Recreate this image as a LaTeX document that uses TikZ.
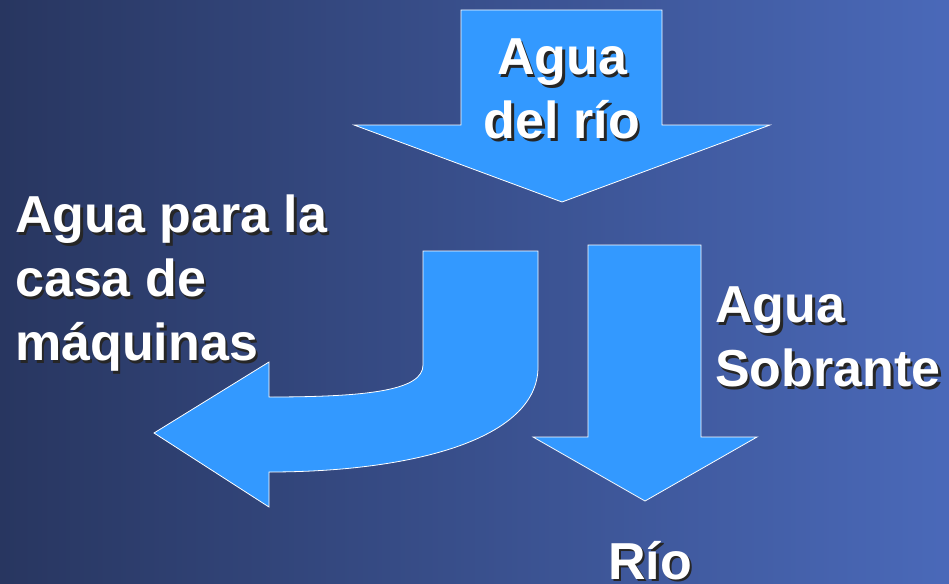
\documentclass[tikz,border=0pt]{standalone}
\usepackage{fontspec}
\setmainfont{Liberation Sans}

\definecolor{fondoIzq}{HTML}{283660}
\definecolor{fondoDer}{HTML}{4A69B9}
\definecolor{flecha}{HTML}{3399FF}

\tikzset{
	flechaazul/.style = {fill = flecha, draw = white!85, line width = 0.8pt, line join = miter},
	texto/.style = {text = white, inner sep = 0pt, align = left, font = \fontsize{52}{64}\selectfont\bfseries},
	sombra/.style = {texto, text = black!85}
}

\begin{document}
\begin{tikzpicture}[x = 1pt, y = -1pt]
	%	fondo
	\useasboundingbox (0, 0) rectangle (949, 583);
	\fill[left color = fondoIzq, right color = fondoDer] (0, 0) rectangle (949, 583);
	
	\def\dx{2.5}
	
	%	flecha de arriba
	\draw[flechaazul] (461, 10) -- (662, 10) -- (662, 125) -- (770, 125) -- (562, 202)
		-- (354, 125) -- (461, 125) -- cycle;
	
	%	flecha curva
	\draw[flechaazul] (423, 251) -- (538, 251) -- (538, 367)
		.. controls (538, 440) and (410, 472) .. (269, 472)
		-- (269, 507) -- (154, 433) -- (269, 362) -- (269, 397)
		.. controls (370, 397) and (423, 390) .. (423, 365) -- cycle;
	
	%	flecha derecha
	\draw[flechaazul] (588, 245) -- (701, 245) -- (701, 437) -- (757, 437) -- (645, 501)
		-- (533, 437) -- (588, 437) -- cycle;
	
	%	textos
	\node[sombra, anchor = north, align = center] at (562 + \dx, 39 + \dx) {Agua\\del río};
	\node[texto, anchor = north, align = center] (rio1) at (562, 39) {Agua\\del río};
	
	\node[sombra, anchor = north west] at (15 + \dx, 195 + \dx) {Agua para la\\casa de\\máquinas};
	\node[texto, anchor = north west] (casa) at (15, 195) {Agua para la\\casa de\\máquinas};
	
	\node[sombra, anchor = north west] at (715 + \dx, 287 + \dx) {Agua\\Sobrante};
	\node[texto, anchor = north west] (sobrante) at (715, 287) {Agua\\Sobrante};
	
	\node[sombra, anchor = base west] at (608 + \dx, 579 + \dx) {Río};
	\node[texto, anchor = base west] (rio2) at (608, 579) {Río};
\end{tikzpicture}
\end{document}
